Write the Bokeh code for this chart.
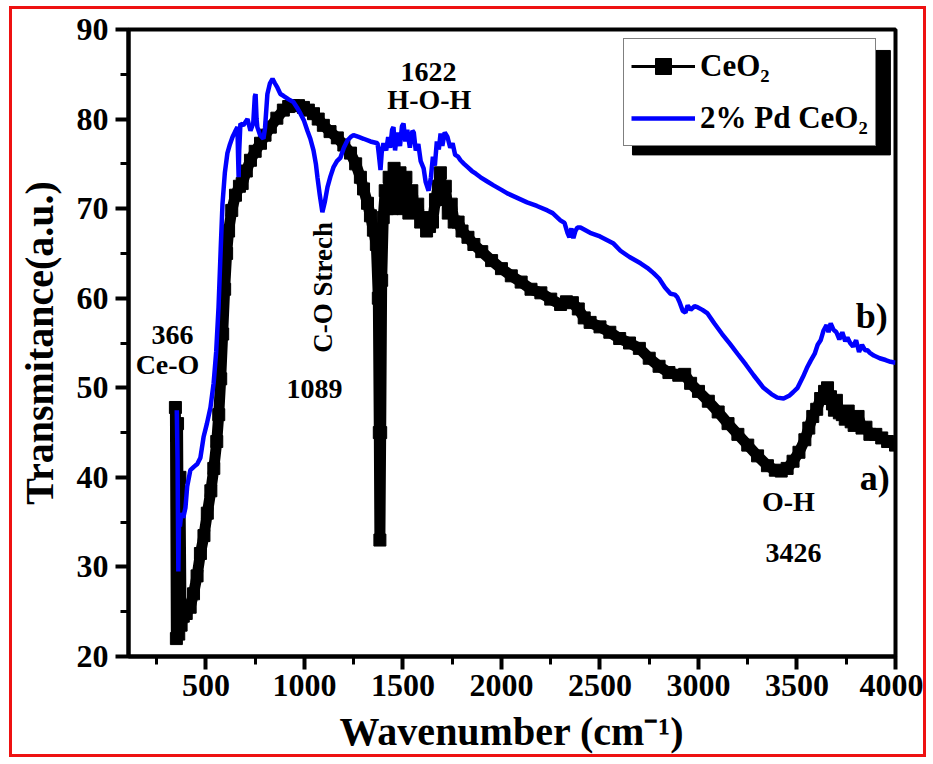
import math
from bokeh.plotting import figure
from bokeh.models import (Range1d, SingleIntervalTicker, Legend, LegendItem,
                          Label, BoxAnnotation)
from bokeh.embed import file_html
from bokeh.resources import INLINE

# ---------------- data ----------------
black_x = [345, 350, 356, 362, 368, 374, 385, 400, 420, 437, 455, 472, 490, 507, 525, 540,
           555, 565, 575, 585, 595, 605, 615, 631, 650, 670, 684, 705, 726, 750, 777, 800,
           827, 860, 893, 920, 944, 970, 995, 1020, 1046, 1070, 1096, 1130, 1167, 1200,
           1234, 1260, 1284, 1300, 1320, 1335, 1350, 1365, 1375, 1380, 1383, 1387, 1392,
           1400, 1410, 1420, 1430, 1445, 1455, 1470, 1485, 1500, 1515, 1530, 1545, 1560,
           1575, 1590, 1605, 1620, 1635, 1650, 1665, 1680, 1690, 1700, 1715, 1730, 1745,
           1760, 1780, 1800, 1830, 1860, 1900, 1950, 2000, 2050, 2100, 2150, 2200, 2250,
           2300, 2330, 2360, 2390, 2420, 2450, 2500, 2550, 2600, 2650, 2700, 2750, 2800,
           2850, 2900, 2930, 2960, 3000, 3050, 3100, 3150, 3200, 3250, 3300, 3350, 3390,
           3420, 3450, 3480, 3510, 3540, 3560, 3580, 3600, 3620, 3640, 3655, 3670, 3680,
           3690, 3700, 3715, 3730, 3745, 3760, 3775, 3790, 3810, 3830, 3850, 3870, 3900,
           3930, 3960, 4000]
black_y = [47.8, 22.0, 46.0, 22.5, 40.0, 23.5, 24.5, 24.8, 25.5, 27.0, 29.0, 31.5, 33.5, 36.0,
           38.5, 41.0, 44.0, 47.0, 51.0, 56.0, 61.0, 65.0, 67.5, 69.8, 71.5, 72.5, 72.8, 74.2,
           75.4, 76.4, 77.3, 78.2, 79.1, 80.1, 81.0, 81.4, 81.5, 81.5, 81.3, 81.0, 80.6, 80.0,
           79.3, 78.6, 77.9, 77.1, 76.2, 75.0, 73.5, 72.2, 70.6, 69.2, 67.6, 66.0, 60.0, 45.0,
           33.0, 45.0, 62.0, 69.0, 72.0, 70.0, 73.5, 70.0, 74.5, 70.5, 74.0, 70.0, 73.5, 69.5,
           72.0, 70.0, 70.5, 68.5, 69.0, 67.5, 68.0, 68.5, 71.0, 72.5, 74.0, 71.0, 72.5, 69.5,
           70.5, 68.5, 68.5, 67.5, 66.8, 66.0, 65.2, 64.2, 63.3, 62.5, 61.8, 61.0, 60.6, 59.9,
           59.3, 59.6, 59.5, 58.8, 57.8, 57.3, 56.8, 56.2, 55.5, 55.0, 54.4, 53.3, 52.4, 51.7,
           51.4, 51.5, 50.5, 49.6, 48.5, 47.3, 46.0, 44.8, 43.6, 42.4, 41.3, 40.8, 40.7, 41.0,
           41.8, 42.8, 44.2, 45.5, 46.8, 47.6, 48.8, 49.6, 50.0, 49.0, 48.2, 47.5, 48.6, 47.2,
           47.0, 46.5, 47.4, 46.2, 45.8, 46.8, 45.5, 45.6, 44.8, 44.8, 44.4, 44.0, 43.6]

blue_x = [352, 356, 360, 364, 368, 375, 385, 396, 405, 421, 440, 456, 472, 488, 505, 523, 539,
          552, 564, 575, 584, 596, 609, 622, 635, 648, 660, 663, 666, 669, 675, 690, 711, 726,
          740, 748, 752, 757, 761, 775, 792, 800, 812, 825, 838, 850, 863, 878, 893, 920, 944,
          962, 980, 998, 1015, 1030, 1046, 1058, 1066, 1078, 1091, 1104, 1117, 1132, 1147,
          1165, 1183, 1200, 1218, 1235, 1249, 1275, 1300, 1335, 1371, 1378, 1386, 1393, 1401,
          1415, 1425, 1435, 1445, 1452, 1460, 1470, 1485, 1495, 1503, 1512, 1522, 1535, 1548,
          1555, 1565, 1578, 1590, 1605, 1615, 1630, 1642, 1652, 1662, 1672, 1682, 1691, 1700,
          1712, 1726, 1740, 1752, 1765, 1780, 1792, 1810, 1830, 1850, 1870, 1894, 1930, 1960,
          2000, 2030, 2080, 2130, 2180, 2233, 2260, 2299, 2320, 2335, 2345, 2355, 2365, 2375,
          2386, 2401, 2450, 2500, 2569, 2604, 2650, 2706, 2740, 2772, 2800, 2830, 2858, 2880,
          2893, 2905, 2920, 2934, 2945, 2960, 2980, 2995, 3020, 3046, 3080, 3120, 3160, 3198,
          3240, 3280, 3330, 3370, 3400, 3432, 3460, 3480, 3503, 3530, 3550, 3569, 3590, 3605,
          3620, 3635, 3650, 3660, 3671, 3685, 3700, 3715, 3730, 3745, 3756, 3770, 3785, 3800,
          3815, 3830, 3845, 3857, 3870, 3890, 3920, 3950, 3975, 4000]
blue_y = [47.5, 42.0, 29.5, 36.0, 34.5, 36.0, 35.5, 36.6, 39.0, 40.8, 41.2, 41.5, 42.2, 44.5,
          46.0, 47.8, 50.5, 54.0, 59.0, 65.5, 70.5, 74.0, 76.2, 77.2, 78.0, 78.6, 79.1, 76.0,
          73.5, 76.5, 79.5, 79.3, 80.0, 78.7, 79.5, 82.5, 82.8, 80.0, 79.1, 78.2, 77.8, 79.0,
          82.8, 84.0, 84.5, 84.0, 83.5, 82.8, 82.6, 82.2, 81.9, 81.3, 80.6, 79.8, 78.7, 77.8,
          76.5, 75.0, 73.5, 71.5, 69.6, 70.8, 72.4, 73.6, 74.6, 75.3, 75.7, 76.8, 77.6, 78.0,
          78.2, 78.0, 77.8, 77.5, 77.3, 76.0, 74.3, 76.5, 77.3, 76.5, 78.0, 76.8, 78.8, 79.1,
          76.5, 78.5, 77.0, 79.2, 79.5, 77.5, 78.8, 76.8, 78.7, 78.5, 76.5, 77.2, 75.3, 74.5,
          73.0, 72.0, 73.5, 75.8, 74.8, 77.5, 76.6, 78.4, 77.0, 78.5, 78.0, 76.8, 77.3, 76.0,
          75.8, 75.4, 75.0, 74.6, 74.2, 73.9, 73.5, 73.0, 72.6, 72.1, 71.7, 71.2, 70.7, 70.3,
          69.8, 69.5, 68.7, 68.4, 67.3, 66.8, 67.8, 66.7, 67.5, 67.9, 67.9, 67.3, 66.9, 66.1,
          65.3, 64.6, 63.9, 63.4, 62.8, 62.2, 61.2, 60.5, 60.4, 60.1, 59.5, 58.6, 58.4, 59.2,
          58.7, 59.1, 59.0, 58.7, 58.3, 57.2, 56.0, 54.9, 53.8, 52.6, 51.4, 50.0, 49.3, 48.9,
          48.8, 49.1, 49.5, 50.0, 51.2, 52.2, 53.0, 53.8, 54.8, 55.3, 56.4, 57.0, 56.2, 57.2,
          56.5, 56.2, 55.4, 56.2, 55.2, 55.6, 55.0, 54.6, 55.3, 54.0, 54.8, 54.2, 54.2, 53.9,
          53.6, 53.3, 53.1, 52.9, 52.8]

series_names = ["CeO\u2082", "2% Pd CeO\u2082"]
x_ticks_interval = 500
y_ticks_interval = 10

# annotation texts (text, x, y, font size, angle)
notes = [
    ("366", 330, 55.9, "28px", 0),
    ("Ce-O", 305, 52.6, "28px", 0),
    ("C-O Strech", 1096, 61.2, "27px", math.pi / 2),
    ("1089", 1051, 49.9, "28px", 0),
    ("1622", 1630, 85.3, "28px", 0),
    ("H-O-H", 1634, 82.2, "28px", 0),
    ("O-H", 3456, 37.3, "28px", 0),
    ("3426", 3482, 31.5, "28px", 0),
    ("b)", 3880, 58.0, "36px", 0),
    ("a)", 3895, 39.9, "36px", 0),
]

FONT = "Liberation Serif"

p = figure(width=917, height=751, x_range=Range1d(107, 4000), y_range=Range1d(20, 90),
           output_backend="svg", toolbar_location=None,
           min_border_left=116, min_border_top=20, min_border_right=34, min_border_bottom=104,
           background_fill_color="white", border_fill_color="white")
p.styles = {"border": "3px solid #ee1111", "margin-left": "9px", "margin-top": "6px"}

p.grid.visible = False
p.outline_line_color = "black"
p.outline_line_width = 4

p.xaxis.ticker = SingleIntervalTicker(interval=x_ticks_interval, num_minor_ticks=2)
p.yaxis.ticker = SingleIntervalTicker(interval=y_ticks_interval, num_minor_ticks=2)
for ax in (p.xaxis, p.yaxis):
    ax.axis_line_width = 4
    ax.axis_line_color = "black"
    ax.major_tick_line_width = 4
    ax.minor_tick_line_width = 3
    ax.major_tick_in = 0
    ax.minor_tick_in = 0
    ax.major_tick_out = 13
    ax.minor_tick_out = 8
    ax.major_label_text_font = FONT
    ax.major_label_text_font_style = "bold"
    ax.major_label_text_font_size = "32px"
    ax.major_label_text_color = "black"
    ax.axis_label_text_font = FONT
    ax.axis_label_text_font_style = "bold"
    ax.axis_label_text_font_size = "40px"
    ax.axis_label_text_color = "black"
p.xaxis.major_label_standoff = 5
p.yaxis.major_label_standoff = 7
p.xaxis.axis_label_standoff = 10
p.yaxis.axis_label_standoff = 12
p.xaxis.axis_label = "Wavenumber (cm\u207b\u00b9)"
p.yaxis.axis_label = "Transmitance(a.u.)"

# curves
p.line(black_x, black_y, line_width=11, color="black")
b_thin = p.line(black_x, black_y, line_width=3, color="black")
b_sq = p.scatter(black_x, black_y, marker="square", size=12, color="black")
bl = p.line(blue_x, blue_y, line_width=4.5, color="#0000ff")

for t, x, y, fs, ang in notes:
    p.add_layout(Label(x=x, y=y, text=t, text_font=FONT, text_font_style="bold",
                       text_font_size=fs, text_align="center", text_baseline="middle",
                       angle=ang, text_color="black"))

# legend shadow + legend
p.add_layout(BoxAnnotation(left=2665, right=3974, top=87.66, bottom=76.0,
                           fill_color="black", fill_alpha=1.0, line_color="black",
                           line_alpha=1.0, level="overlay"))
legend = Legend(items=[LegendItem(label=series_names[0], renderers=[b_thin, b_sq]),
                       LegendItem(label=series_names[1], renderers=[bl])],
                location=(495, 510), margin=0, padding=7, spacing=12,
                glyph_width=64, glyph_height=40, label_height=40, label_standoff=5,
                label_text_font=FONT, label_text_font_style="bold",
                label_text_font_size="31px", label_text_color="black",
                border_line_color="black", border_line_width=1.5,
                background_fill_color="white", background_fill_alpha=1.0,
                level="overlay")
p.add_layout(legend)

open("out.html", "w").write(file_html(p, INLINE))
